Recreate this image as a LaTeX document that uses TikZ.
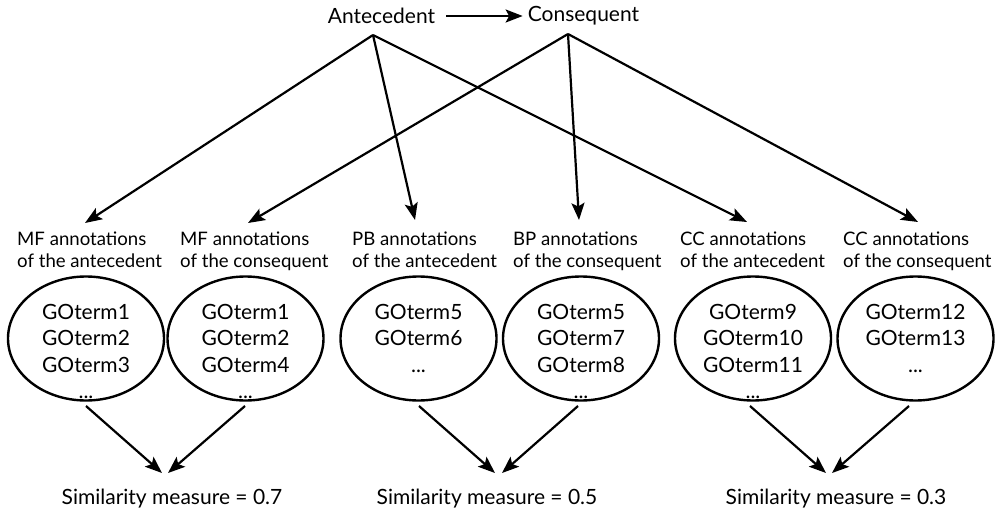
\documentclass[tikz,border=0pt]{standalone}
\usepackage{fontspec}
\setmainfont{Lato}
\usetikzlibrary{arrows.meta,shapes.geometric}
\begin{document}
\begin{tikzpicture}[x=1pt,y=-1pt,
  txt/.style={font=\fontsize{21}{25}\selectfont, inner sep=0pt},
  lbl/.style={inner sep=0pt, align=left, anchor=north west, font=\fontsize{18.6}{22}\selectfont},
  setbox/.style={draw, line width=2.4pt, ellipse, minimum width=156pt, minimum height=124pt, inner sep=0pt},
  terms/.style={inner sep=0pt, align=center, anchor=north, font=\fontsize{21}{26.5}\selectfont},
  link/.style={line width=2.2pt, -{Stealth[length=17pt,width=13pt,inset=3.5pt]}}]
\path[use as bounding box] (0,0) rectangle (1003,513);

% rule
\node[txt] (ant) at (381.5,16) {Antecedent};
\node[txt] (con) at (583.5,16) {Consequent};
\draw[link] ([xshift=11pt]ant.east) -- ([xshift=-5pt]con.west);

\coordinate (ap) at (373,35);
\coordinate (cp) at (568,34);

% annotation labels
\node[lbl] (l1) at (17,232) {MF annotations\\of the antecedent};
\node[lbl] (l2) at (180,232) {MF annotations\\of the consequent};
\node[lbl] (l3) at (352,232) {PB annotations\\of the antecedent};
\node[lbl] (l4) at (513,232) {BP annotations\\of the consequent};
\node[lbl] (l5) at (680,232) {CC annotations\\of the antecedent};
\node[lbl] (l6) at (843,232) {CC annotations\\of the consequent};

\coordinate (t1) at (85,223);
\coordinate (t2) at (248,223);
\coordinate (t3) at (415,220);
\coordinate (t4) at (579,220);
\coordinate (t5) at (747,222);
\coordinate (t6) at (918,222);

\draw[link] (ap) -- (t1);
\draw[link] (ap) -- (t3);
\draw[link] (ap) -- (t5);
\draw[link] (cp) -- (t2);
\draw[link] (cp) -- (t4);
\draw[link] (cp) -- (t6);

% term sets
\node[setbox] (e1) at (86,338.5) {};
\node[setbox] (e2) at (245.5,338.5) {};
\node[setbox] (e3) at (418.5,338.5) {};
\node[setbox] (e4) at (581,338.5) {};
\node[setbox] (e5) at (753,338.5) {};
\node[setbox] (e6) at (915.5,338.5) {};

\node[terms] (g1) at (86,304) {GOterm1\\GOterm2\\GOterm3\\...};
\node[terms] (g2) at (245.5,304) {GOterm1\\GOterm2\\GOterm4\\...};
\node[terms] (g3) at (418.5,304) {GOterm5\\GOterm6\\...};
\node[terms] (g4) at (581,304) {GOterm5\\GOterm7\\GOterm8\\...};
\node[terms] (g5) at (753,304) {GOterm9\\GOterm10\\GOterm11\\...};
\node[terms] (g6) at (915.5,304) {GOterm12\\GOterm13\\...};

% similarity results
\node[txt] (s1) at (172,499) {Similarity measure = 0.7};
\node[txt] (s2) at (487,499) {Similarity measure = 0.5};
\node[txt] (s3) at (836,499) {Similarity measure = 0.3};

\coordinate (b1a) at (86,406);
\coordinate (b1b) at (245,406);
\coordinate (b2a) at (419,406);
\coordinate (b2b) at (578,406);
\coordinate (b3a) at (750,406);
\coordinate (b3b) at (909,406);

\coordinate (p1a) at (162,473);
\coordinate (p1b) at (168,473);
\coordinate (p2a) at (495,473);
\coordinate (p2b) at (502,473);
\coordinate (p3a) at (826,473);
\coordinate (p3b) at (832,473);

\draw[link] (b1a) -- (p1a);
\draw[link] (b1b) -- (p1b);
\draw[link] (b2a) -- (p2a);
\draw[link] (b2b) -- (p2b);
\draw[link] (b3a) -- (p3a);
\draw[link] (b3b) -- (p3b);
\end{tikzpicture}
\end{document}
